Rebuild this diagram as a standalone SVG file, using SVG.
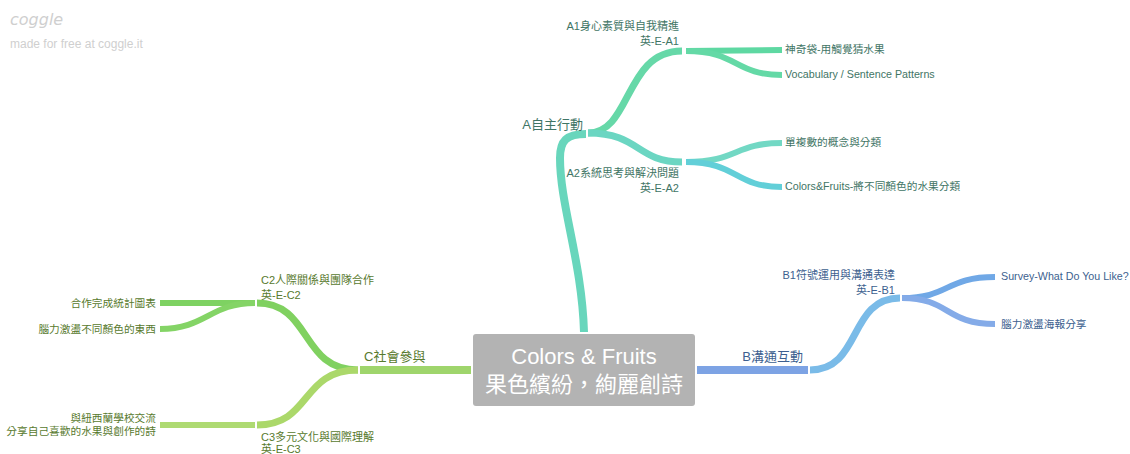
<svg xmlns="http://www.w3.org/2000/svg" width="1130" height="454" viewBox="0 0 1130 454">
<style>
text{font-family:"Liberation Sans","Noto Sans CJK TC",sans-serif;}
.br{fill:none;stroke-linecap:butt;}
.w1{stroke-width:8;}
.w2{stroke-width:7;}
.w3{stroke-width:6;}
.ta{fill:#3f7565;font-size:11px;}
.tb{fill:#3d5f8f;font-size:11px;}
.tc{fill:#587a2e;font-size:11px;}
.lf{font-size:10.7px;}
.big{font-size:13px;}
.logo{fill:#cfcfcf;}
</style>
<rect width="1130" height="454" fill="#ffffff"/>
<g id="logo">
<text class="logo" x="10" y="25" font-size="16" font-style="italic" style="font-family:'DejaVu Sans',cursive">coggle</text>
<text class="logo" x="10" y="48" font-size="12">made for free at coggle.it</text>
</g>
<g id="connectors">
<path class="br w1" stroke="#68d6bc" d="M584,332 C582,262 560,205 560,158 C560,141 566,134 586,134"/>
<path class="br w2" stroke="#66d8a8" d="M588,133 C632,133 624,51 682,51"/>
<path class="br w2" stroke="#6bd6c2" d="M588,133 C640,133 636,162 682,162"/>
<path class="br w3" stroke="#5ed8a2" d="M686,51 L782,50"/>
<path class="br w3" stroke="#64d9a6" d="M686,51 C738,51 734,75 782,75"/>
<path class="br w3" stroke="#72d8c4" d="M686,162 C738,162 734,143 782,143"/>
<path class="br w3" stroke="#62cfd8" d="M686,162 C738,162 734,187 782,187"/>
<path class="br w1" stroke="#7da3e4" d="M697,370 L808,370"/>
<path class="br w2" stroke="#7abbe8" d="M810,370 C862,370 848,298 900,298"/>
<path class="br w3" stroke="#70a8e6" d="M902,298 C950,298 945,277 995,277"/>
<path class="br w3" stroke="#84abe8" d="M902,298 C950,298 945,324 995,324"/>
<path class="br w1" stroke="#9fd56c" d="M471,370 L360,370"/>
<path class="br w2" stroke="#80d160" d="M358,370 C300,370 312,303 257,303"/>
<path class="br w2" stroke="#abd86a" d="M358,370 C300,370 312,425 257,425"/>
<path class="br w3" stroke="#7ed262" d="M255,303 L160,303"/>
<path class="br w3" stroke="#84d466" d="M255,303 C210,303 206,329 160,329"/>
<path class="br w3" stroke="#aeda72" d="M255,425 L160,425"/>
</g>
<g id="center">
<rect x="473" y="334" width="222" height="72" rx="3" fill="#b3b3b3"/>
<text x="584" y="364" text-anchor="middle" font-size="22" fill="#ffffff">Colors &amp; Fruits</text>
<text x="584" y="392" text-anchor="middle" font-size="22" fill="#ffffff">果色繽紛，絢麗創詩</text>
</g>
<g id="A">
<text class="ta big" x="583" y="129" text-anchor="end">A自主行動</text>
</g>
<g id="A1">
<text class="ta" x="679" y="30" text-anchor="end">A1身心素質與自我精進</text>
<text class="ta" x="679" y="45" text-anchor="end">英-E-A1</text>
</g>
<g id="A1a"><text class="ta lf" x="785" y="53">神奇袋-用觸覺猜水果</text></g>
<g id="A1b"><text class="ta lf" x="785" y="78">Vocabulary / Sentence Patterns</text></g>
<g id="A2">
<text class="ta" x="679" y="177" text-anchor="end">A2系統思考與解決問題</text>
<text class="ta" x="679" y="192" text-anchor="end">英-E-A2</text>
</g>
<g id="A2a"><text class="ta lf" x="785" y="146">單複數的概念與分類</text></g>
<g id="A2b"><text class="ta lf" x="785" y="190">Colors&amp;Fruits-將不同顏色的水果分類</text></g>
<g id="B">
<text class="tb big" x="803" y="361" text-anchor="end">B溝通互動</text>
</g>
<g id="B1">
<text class="tb" x="895" y="279" text-anchor="end">B1符號運用與溝通表達</text>
<text class="tb" x="895" y="294" text-anchor="end">英-E-B1</text>
</g>
<g id="B1a"><text class="tb lf" x="1001" y="280">Survey-What Do You Like?</text></g>
<g id="B1b"><text class="tb lf" x="1001" y="328">腦力激盪海報分享</text></g>
<g id="C">
<text class="tc big" x="364" y="361">C社會參與</text>
</g>
<g id="C2">
<text class="tc" x="261" y="284">C2人際關係與團隊合作</text>
<text class="tc" x="261" y="299">英-E-C2</text>
</g>
<g id="C2a"><text class="tc lf" x="156" y="307" text-anchor="end">合作完成統計圖表</text></g>
<g id="C2b"><text class="tc lf" x="156" y="333" text-anchor="end">腦力激盪不同顏色的東西</text></g>
<g id="C3">
<text class="tc" x="261" y="441">C3多元文化與國際理解</text>
<text class="tc" x="261" y="453">英-E-C3</text>
</g>
<g id="C3a">
<text class="tc lf" x="156" y="422" text-anchor="end">與紐西蘭學校交流</text>
<text class="tc lf" x="156" y="435" text-anchor="end">分享自己喜歡的水果與創作的詩</text>
</g>
</svg>
